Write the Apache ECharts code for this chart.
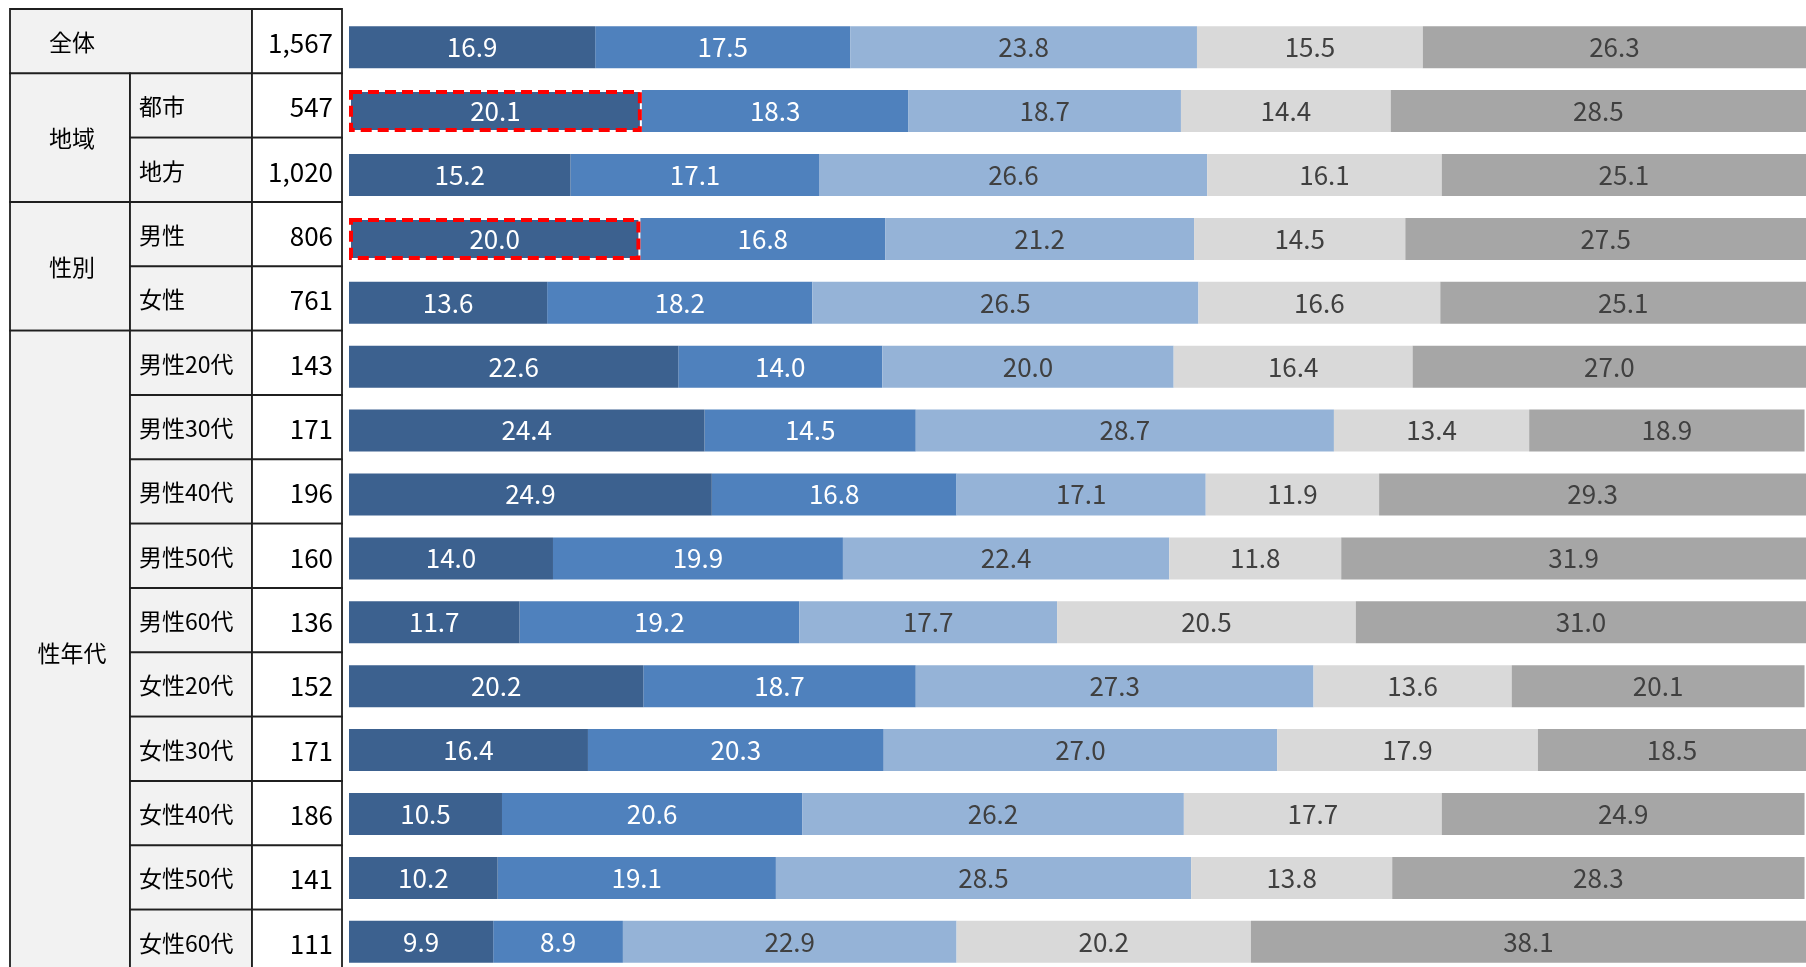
<!DOCTYPE html>
<html>
<head>
<meta charset="utf-8">
<script src="https://cdn.jsdelivr.net/npm/echarts@6/dist/echarts.min.js"></script>
<style>
html,body{margin:0;padding:0;background:#fff;}
#chart{width:1806px;height:967px;}
</style>
</head>
<body>
<div id="chart"></div>
<script>
const rowLabels = ['全体','都市','地方','男性','女性','男性20代','男性30代','男性40代','男性50代','男性60代','女性20代','女性30代','女性40代','女性50代','女性60代'];
const groupLabels = ['全体','地域','地域','性別','性別','性年代','性年代','性年代','性年代','性年代','性年代','性年代','性年代','性年代','性年代'];
const sampleSizes = [1567,547,1020,806,761,143,171,196,160,136,152,171,186,141,111];

const series1 = [16.9,20.1,15.2,20.0,13.6,22.6,24.4,24.9,14.0,11.7,20.2,16.4,10.5,10.2,9.9];
const series2 = [17.5,18.3,17.1,16.8,18.2,14.0,14.5,16.8,19.9,19.2,18.7,20.3,20.6,19.1,8.9];
const series3 = [23.8,18.7,26.6,21.2,26.5,20.0,28.7,17.1,22.4,17.7,27.3,27.0,26.2,28.5,22.9];
const series4 = [15.5,14.4,16.1,14.5,16.6,16.4,13.4,11.9,11.8,20.5,13.6,17.9,17.7,13.8,20.2];
const series5 = [26.3,28.5,25.1,27.5,25.1,27.0,18.9,29.3,31.9,31.0,20.1,18.5,24.9,28.3,38.1];
const highlightRows = [1,3];

const FONT = '"Noto Sans CJK JP", "Noto Sans", sans-serif';
const colors = ['#3C618F','#4F81BD','#95B3D7','#D9D9D9','#A6A6A6'];
const labelColors = ['#FFFFFF','#FFFFFF','#404040','#404040','#404040'];
const allSeries = [series1,series2,series3,series4,series5];

const chart = echarts.init(document.getElementById('chart'), null, {renderer:'canvas'});

function renderTable(params, api){
  const i = api.value(1);
  const p = api.coord([0, i]);
  const bh = api.size([0, 1])[1];
  const top = p[1] - bh/2;
  const cs = params.coordSys;
  const x0 = cs.x, x3 = cs.x + cs.width;
  const x1 = x0 + 120, x2 = x0 + 242;
  const stroke = '#1F1F1F', lw = 1.8;
  const children = [];
  const g = groupLabels[i];
  const merged = g === rowLabels[i];
  const isFirst = i === 0 || groupLabels[i-1] !== g;
  if (isFirst) {
    let n = 0;
    for (let k = i; k < groupLabels.length && groupLabels[k] === g; k++) n++;
    children.push({type:'rect', shape:{x:x0, y:top, width:(merged? x2 : x1) - x0, height:n*bh},
      style:{fill:'#F2F2F2', stroke:stroke, lineWidth:lw}});
    children.push({type:'text', style:{text:g, x:x0 + (x1-x0)/2 + 2, y:top + n*bh/2 + 1,
      align:'center', verticalAlign:'middle', fill:'#000', fontSize:23, fontFamily:FONT}});
  }
  if (!merged) {
    children.push({type:'rect', shape:{x:x1, y:top, width:x2-x1, height:bh},
      style:{fill:'#F2F2F2', stroke:stroke, lineWidth:lw}});
    children.push({type:'text', style:{text:rowLabels[i], x:x1 + 9, y:top + bh/2 + 1,
      align:'left', verticalAlign:'middle', fill:'#000', fontSize:23, fontFamily:FONT}});
  }
  children.push({type:'rect', shape:{x:x2, y:top, width:x3-x2, height:bh},
    style:{fill:'#FFFFFF', stroke:stroke, lineWidth:lw}});
  children.push({type:'text', style:{text:sampleSizes[i].toLocaleString('en-US'), x:x3 - 9, y:top + bh/2 + 2,
    align:'right', verticalAlign:'middle', fill:'#000', fontSize:26, fontFamily:FONT}});
  return {type:'group', children:children};
}

const barSeries = allSeries.map((arr, si) => ({
  type:'bar',
  name:'選択肢' + (si+1),
  stack:'total',
  xAxisIndex:0, yAxisIndex:0,
  barWidth:42,
  z: si === 0 ? 4 : 2,
  itemStyle:{color:colors[si]},
  label:{show:true, position:'inside', color:labelColors[si], fontSize:26, fontFamily:FONT,
    formatter:(p)=>Number(p.value).toFixed(1)},
  data: arr.map((v, ri) => (si === 0 && highlightRows.includes(ri)) ?
    {value:v, itemStyle:{color:colors[0], borderColor:'#FF0000', borderWidth:4, borderType:[11,6]}} : v)
}));

chart.setOption({
  backgroundColor:'#FFFFFF',
  animation:false,
  grid:[
    {left:349, right:0, top:15.25, height:958.5, containLabel:false, outerBoundsMode:'none'},
    {left:10, width:332, top:9, height:965, containLabel:false, outerBoundsMode:'none'}
  ],
  xAxis:[
    {type:'value', gridIndex:0, min:0, max:100, show:false},
    {type:'value', gridIndex:1, min:0, max:1, show:false}
  ],
  yAxis:[
    {type:'category', gridIndex:0, inverse:true, data:rowLabels, show:false},
    {type:'category', gridIndex:1, inverse:true, data:rowLabels, show:false}
  ],
  series: barSeries.concat([{
    type:'custom',
    xAxisIndex:1, yAxisIndex:1,
    clip:false,
    renderItem:renderTable,
    data: rowLabels.map((r, i) => [0, i])
  }])
});
</script>
</body>
</html>
